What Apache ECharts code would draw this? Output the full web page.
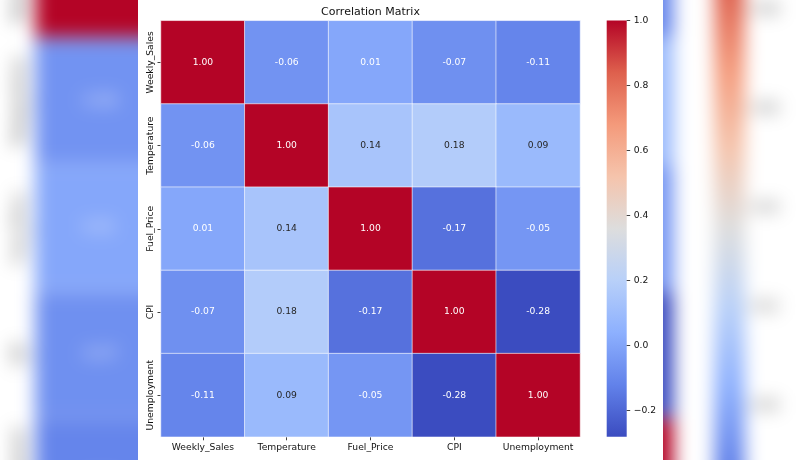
<!DOCTYPE html>
<html>
<head>
<meta charset="utf-8">
<script src="https://cdn.jsdelivr.net/npm/echarts@6/dist/echarts.min.js"></script>
<style>
  html, body { margin: 0; padding: 0; width: 800px; height: 460px; overflow: hidden; background: #fff; }
  #bg { position: absolute; left: 0; top: 0; width: 525px; height: 460px;
        transform-origin: 0 0; transform: translate(0px, -120.5px) scale(1.5238);
        filter: blur(6px); }
  #fg { position: absolute; left: 138px; top: 0; width: 525px; height: 460px; background: #fff; }
</style>
</head>
<body>
<img id="bg" alt="">
<div id="fg"></div>
<script>
const variables = ['Weekly_Sales', 'Temperature', 'Fuel_Price', 'CPI', 'Unemployment'];
const rowWeeklySales = [1.00, -0.06, 0.01, -0.07, -0.11];
const rowTemperature = [-0.06, 1.00, 0.14, 0.18, 0.09];
const rowFuelPrice   = [0.01, 0.14, 1.00, -0.17, -0.05];
const rowCPI         = [-0.07, 0.18, -0.17, 1.00, -0.28];
const rowUnemployment= [-0.11, 0.09, -0.05, -0.28, 1.00];
const colorbarTicks  = [-0.2, 0.0, 0.2, 0.4, 0.6, 0.8, 1.0];
const colorMin = -0.28, colorMax = 1.0;

const coolwarm = ['#3b4cc0', '#6282ea', '#8db0fe', '#b8d0f9', '#dddddd',
                  '#f5c4ac', '#f49a7b', '#de604d', '#b40426'];

const rows = [rowWeeklySales, rowTemperature, rowFuelPrice, rowCPI, rowUnemployment];
const cells = [];
rows.forEach((r, yi) => r.forEach((v, xi) => cells.push([xi, yi, v])));

const FONT = 'DejaVu Sans';
const TXT = '#111';

const chart = echarts.init(document.getElementById('fg'), null, { renderer: 'canvas' });
const option = {
  animation: false,
  backgroundColor: '#fff',
  textStyle: { fontFamily: FONT },
  title: {
    text: 'Correlation Matrix',
    left: 232.5, top: 6.5, padding: 0, textAlign: 'center',
    textStyle: { fontFamily: FONT, fontSize: 11, fontWeight: 'normal', color: TXT }
  },
  grid: [
    { left: 23, top: 20.8, width: 419, height: 416 },
    { left: 468.7, top: 20.5, width: 20, height: 416.2 }
  ],
  xAxis: [
    { type: 'category', data: variables, gridIndex: 0, position: 'bottom',
      axisLine: { show: false },
      axisTick: { show: true, alignWithLabel: true, length: 3.5, lineStyle: { color: TXT, width: 0.8 } },
      axisLabel: { fontFamily: FONT, fontSize: 9.2, color: TXT, margin: 6, interval: 0 },
      splitLine: { show: false } },
    { type: 'value', gridIndex: 1, show: false, min: 0, max: 1,
      axisLine: { onZero: false } }
  ],
  yAxis: [
    { type: 'category', data: variables, gridIndex: 0, inverse: true,
      axisLine: { show: false },
      axisTick: { show: true, alignWithLabel: true, length: 3.5, lineStyle: { color: TXT, width: 0.8 } },
      axisLabel: { fontFamily: FONT, fontSize: 9.2, color: TXT, rotate: 90, margin: 6, interval: 0 },
      splitLine: { show: false } },
    { type: 'value', gridIndex: 1, position: 'right', min: colorMin, max: colorMax,
      axisLine: { show: false, onZero: false },
      splitLine: { show: false },
      axisTick: { show: true, length: 3.5, customValues: colorbarTicks, lineStyle: { color: TXT, width: 0.8 } },
      axisLabel: { show: true, customValues: colorbarTicks, fontFamily: FONT, fontSize: 9.2, color: TXT, margin: 7,
        formatter: v => Number(v).toFixed(1).replace('-', '\u2212') } }
  ],
  visualMap: {
    type: 'continuous', show: false, seriesIndex: 0, dimension: 2,
    min: colorMin, max: colorMax,
    inRange: { color: coolwarm },
    outOfRange: { color: ['#3b4cc0'] }
  },
  series: [{
    type: 'heatmap', xAxisIndex: 0, yAxisIndex: 0,
    data: cells,
    itemStyle: { borderColor: 'rgba(255,255,255,0.85)', borderWidth: 0.7 },
    emphasis: { disabled: true },
    label: {
      show: true,
      formatter: p => {
        const v = p.value[2];
        const s = v.toFixed(2);
        return (v > 0.05 && v < 0.7) ? '{d|' + s + '}' : '{w|' + s + '}';
      },
      rich: {
        d: { color: '#262626', fontFamily: FONT, fontSize: 9.2 },
        w: { color: '#ffffff', fontFamily: FONT, fontSize: 9.2 }
      }
    }
  }]
};
chart.setOption(option);

// colour bar drawn at the position of the colour-bar axis
const yTop = chart.convertToPixel({ yAxisIndex: 1 }, colorMax);
const yBot = chart.convertToPixel({ yAxisIndex: 1 }, colorMin);
const xL = chart.convertToPixel({ xAxisIndex: 1 }, 0);
const xR = chart.convertToPixel({ xAxisIndex: 1 }, 1);
chart.setOption({
  graphic: [{
    type: 'rect', silent: true, z: -1,
    shape: { x: xL, y: yTop, width: xR - xL, height: yBot - yTop },
    style: {
      fill: new echarts.graphic.LinearGradient(0, 1, 0, 0,
        coolwarm.map((c, i) => ({ offset: i / (coolwarm.length - 1), color: c })))
    }
  }]
});

function paintBackground() {
  document.getElementById('bg').src = chart.getDataURL({ type: 'png', pixelRatio: 1, backgroundColor: '#fff' });
}
paintBackground();
chart.on('finished', paintBackground);
</script>
</body>
</html>
